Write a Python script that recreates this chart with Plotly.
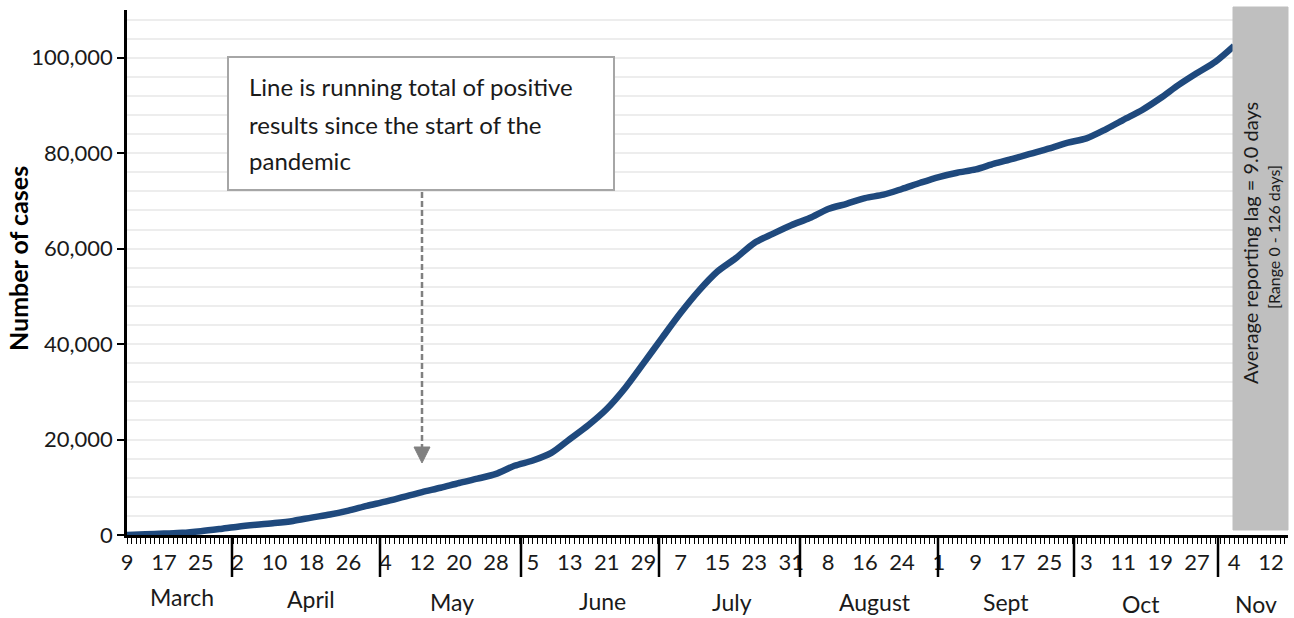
import pandas as pd
import plotly.graph_objects as go

# ---------------- data ----------------
start_date = "2020-03-09"
step_days = 4
cumulative_cases = [
    0, 150, 300, 450, 800, 1250, 1750, 2150, 2500, 2950,
    3650, 4300, 5100, 6100, 7000, 8000, 9000, 9900, 10900, 11800,
    12800, 14500, 15600, 17200, 20100, 23000, 26400, 30800, 36000, 41300,
    46500, 51200, 55200, 58000, 61200, 63100, 64900, 66400, 68300, 69400,
    70600, 71300, 72500, 73800, 75000, 75900, 76600, 77800, 78800, 79900,
    81000, 82200, 83100, 84900, 87000, 89000, 91500, 94300, 96800, 99200,
    102500,
]
day_tick_labels = ["9", "17", "25", "2", "10", "18", "26", "4", "12", "20", "28",
                   "5", "13", "21", "29", "7", "15", "23", "31", "8", "16", "24",
                   "1", "9", "17", "25", "3", "11", "19", "27", "4", "12"]
month_labels = ["March", "April", "May", "June", "July", "August", "Sept", "Oct", "Nov"]
note_lines = ["Line is running total of positive",
              "results since the start of the",
              "pandemic"]
lag_text = "Average reporting lag = 9.0 days"
range_text = "[Range 0 - 126 days]"
y_title = "Number of cases"

dates = pd.date_range(start_date, periods=len(cumulative_cases), freq=f"{step_days}D")
tick_dates = pd.date_range(start_date, periods=len(day_tick_labels), freq="8D")

# ---------------- layout helpers (pixel -> paper) ----------------
W, H = 1294, 618
L, R, T, B = 127, 6, 10, 83
PW, PH = W - L - R, H - T - B


def px(x):
    return (x - L) / PW


def py(y):
    return (H - B - y) / PH


FONT = "Lato"
TXT = "#1a1a1a"

fig = go.Figure()
fig.add_trace(go.Scatter(
    x=dates, y=cumulative_cases, mode="lines",
    line=dict(color="#1F497D", width=6.5, shape="spline", smoothing=0.8),
    hoverinfo="x+y", showlegend=False,
))

shapes = []
annotations = []

# month separator long ticks
sep_px = [232, 380, 521, 659, 800, 938, 1074, 1218]
for sx in sep_px:
    shapes.append(dict(type="line", xref="paper", yref="paper",
                       x0=px(sx), x1=px(sx), y0=py(535), y1=py(577),
                       line=dict(color="black", width=2.5)))

# month labels
month_px = [182, 311, 452, 602, 732, 875, 1006, 1141, 1256]
month_py = [597, 599, 602, 601, 602, 602, 602, 604, 604]
for name, mx, my in zip(month_labels, month_px, month_py):
    annotations.append(dict(text=name, xref="paper", yref="paper",
                            x=px(mx), y=py(my), showarrow=False,
                            xanchor="center", yanchor="middle",
                            font=dict(family=FONT, size=23, color=TXT)))

# note box
shapes.append(dict(type="rect", xref="paper", yref="paper",
                   x0=px(228), x1=px(614), y0=py(57), y1=py(190),
                   line=dict(color="#A6A6A6", width=2), fillcolor="white",
                   layer="above"))
for line_txt, ly in zip(note_lines, [86, 124, 160]):
    annotations.append(dict(text=line_txt, xref="paper", yref="paper",
                            x=px(247), y=py(ly), showarrow=False,
                            xanchor="left", yanchor="middle",
                            font=dict(family=FONT, size=24, color=TXT)))

# dashed arrow
shapes.append(dict(type="line", xref="paper", yref="paper",
                   x0=px(422), x1=px(422), y0=py(192), y1=py(448),
                   line=dict(color="#808080", width=2.5, dash="6px,3px"),
                   layer="above"))
shapes.append(dict(type="path", xref="paper", yref="paper",
                   path=f"M {px(414)},{py(447)} L {px(430)},{py(447)} L {px(422)},{py(463)} Z",
                   fillcolor="#808080", line=dict(color="#808080", width=1),
                   layer="above"))

# grey reporting-lag box
shapes.append(dict(type="rect", xref="paper", yref="paper",
                   x0=px(1233), x1=px(1288), y0=py(530), y1=py(7),
                   line=dict(color="#BFBFBF", width=1), fillcolor="#BFBFBF",
                   layer="above"))
annotations.append(dict(text=lag_text, xref="paper", yref="paper",
                        x=px(1250), y=py(243), showarrow=False, textangle=-90,
                        xanchor="center", yanchor="middle",
                        font=dict(family=FONT, size=20, color=TXT)))
annotations.append(dict(text=range_text, xref="paper", yref="paper",
                        x=px(1273), y=py(237), showarrow=False, textangle=-90,
                        xanchor="center", yanchor="middle",
                        font=dict(family=FONT, size=16, color=TXT)))

# y-axis title
annotations.append(dict(text=f"<b>{y_title}</b>", xref="paper", yref="paper",
                        x=px(18), y=py(258), showarrow=False, textangle=-90,
                        xanchor="center", yanchor="middle",
                        font=dict(family=FONT, size=25, color="black")))

fig.update_layout(
    width=W, height=H,
    margin=dict(l=L, r=R, t=T, b=B),
    paper_bgcolor="white", plot_bgcolor="white",
    shapes=shapes, annotations=annotations,
    font=dict(family=FONT, color=TXT),
    xaxis=dict(
        type="date",
        range=["2020-03-09", "2020-11-15 16:48"],
        tickvals=list(tick_dates), ticktext=day_tick_labels,
        tickfont=dict(family=FONT, size=22, color=TXT),
        ticks="outside", ticklen=6, tickwidth=1, tickcolor="black",
        minor=dict(dtick=86400000, tick0="2020-03-09", ticks="outside",
                   ticklen=6, tickwidth=1, tickcolor="black", showgrid=False),
        showline=True, linecolor="black", linewidth=2.5,
        showgrid=False, zeroline=False,
    ),
    yaxis=dict(
        range=[0, 110000], dtick=20000, tickformat=",",
        tickfont=dict(family=FONT, size=22, color=TXT),
        ticks="outside", ticklen=7, tickwidth=2, tickcolor="black",
        showline=True, linecolor="black", linewidth=2.5,
        showgrid=True, gridcolor="#EDEDED", gridwidth=1.5,
        minor=dict(dtick=4000, showgrid=True, gridcolor="#EDEDED", gridwidth=1.5),
        zeroline=False,
    ),
)

fig.write_html("out.html", config={"displayModeBar": False},
               post_script="document.body.style.margin='0';")
